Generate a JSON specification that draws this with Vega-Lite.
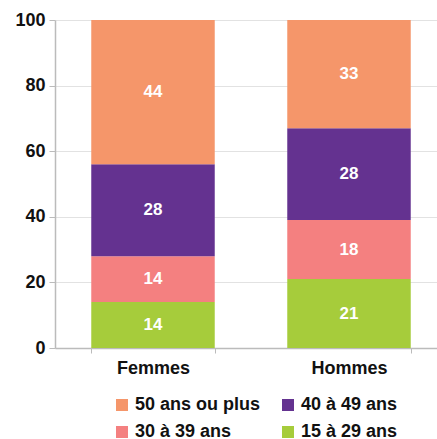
{
  "$schema": "https://vega.github.io/schema/vega-lite/v6.json",
  "autosize": {"type": "none"},
  "padding": {"left": 55, "top": 20, "right": 0, "bottom": 91},
  "width": 392,
  "height": 328,
  "background": "white",
  "config": {
    "view": {"stroke": null},
    "font": "Liberation Sans"
  },
  "data": {
    "values": [
      {"sexe": "Femmes", "age": "15 à 29 ans", "rang": 1, "valeur": 14},
      {"sexe": "Femmes", "age": "30 à 39 ans", "rang": 2, "valeur": 14},
      {"sexe": "Femmes", "age": "40 à 49 ans", "rang": 3, "valeur": 28},
      {"sexe": "Femmes", "age": "50 ans ou plus", "rang": 4, "valeur": 44},
      {"sexe": "Hommes", "age": "15 à 29 ans", "rang": 1, "valeur": 21},
      {"sexe": "Hommes", "age": "30 à 39 ans", "rang": 2, "valeur": 18},
      {"sexe": "Hommes", "age": "40 à 49 ans", "rang": 3, "valeur": 28},
      {"sexe": "Hommes", "age": "50 ans ou plus", "rang": 4, "valeur": 33}
    ]
  },
  "encoding": {
    "x": {
      "field": "sexe",
      "type": "nominal",
      "scale": {"paddingInner": 0.37, "paddingOuter": 0.185},
      "axis": {
        "title": null,
        "labelAngle": 0,
        "labelFont": "Liberation Sans",
        "labelFontSize": 18,
        "labelFontWeight": "bold",
        "labelColor": "#111111",
        "labelPadding": 6,
        "domainColor": "#bbbbbb",
        "domainWidth": 1.5,
        "tickColor": "#bbbbbb",
        "tickBand": "extent",
        "tickSize": 5,
        "ticks": true
      }
    },
    "y": {
      "field": "valeur",
      "type": "quantitative",
      "stack": "zero",
      "scale": {"domain": [0, 100]},
      "axis": {
        "title": null,
        "values": [0, 20, 40, 60, 80, 100],
        "labelFont": "Liberation Sans",
        "labelFontSize": 18,
        "labelFontWeight": "bold",
        "labelColor": "#111111",
        "labelPadding": 4,
        "domainColor": "#bbbbbb",
        "domainWidth": 1.5,
        "tickColor": "#bbbbbb",
        "tickSize": 6,
        "grid": true,
        "gridColor": "#e2e2e2",
        "gridWidth": 1
      }
    },
    "order": {"field": "rang", "type": "quantitative", "sort": "ascending"}
  },
  "layer": [
    {
      "mark": {"type": "bar"},
      "encoding": {
        "color": {
          "field": "age",
          "type": "nominal",
          "scale": {
            "domain": ["50 ans ou plus", "40 à 49 ans", "30 à 39 ans", "15 à 29 ans"],
            "range": ["#f5966a", "#643290", "#f48080", "#a6cc3b"]
          },
          "legend": {
            "title": null,
            "orient": "none",
            "legendX": 58,
            "legendY": 376,
            "columns": 2,
            "direction": "horizontal",
            "symbolType": "square",
            "symbolSize": 144,
            "symbolStrokeWidth": 0,
            "symbolOpacity": 1,
            "labelFont": "Liberation Sans",
            "labelFontSize": 18,
            "labelFontWeight": "bold",
            "labelColor": "#111111",
            "labelOffset": 4,
            "columnPadding": 18,
            "rowPadding": 9
          }
        }
      }
    },
    {
      "mark": {"type": "text", "color": "white", "fontWeight": "bold", "fontSize": 17, "font": "Liberation Sans", "baseline": "middle"},
      "encoding": {
        "y": {"field": "valeur", "type": "quantitative", "stack": "zero", "bandPosition": 0.5},
        "text": {"field": "valeur", "type": "quantitative"}
      }
    }
  ]
}
